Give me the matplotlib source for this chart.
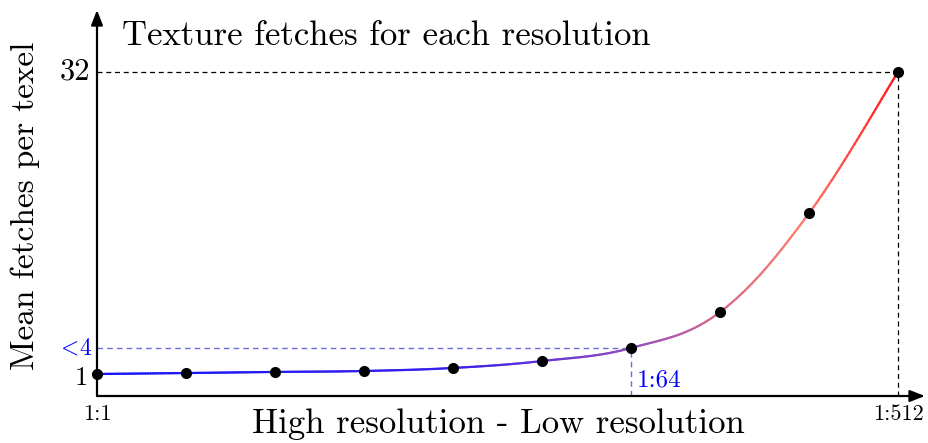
import matplotlib.pyplot as plt
import numpy as np
from matplotlib.collections import LineCollection
from matplotlib.colors import LinearSegmentedColormap

plt.rcParams['font.family'] = ['cmr10', 'DejaVu Serif']
plt.rcParams['mathtext.fontset'] = 'cm'
plt.rcParams['axes.unicode_minus'] = False

# resolution steps 1:1 ... 1:512 and mean fetches per texel
steps = [0, 1, 2, 3, 4, 5, 6, 7, 8, 9]
fetches = [1.0, 1.1, 1.21, 1.31, 1.62, 2.33, 3.67, 7.36, 17.5, 32.0]
x_labels = {0: '1:1', 9: '1:512'}
mark_idx = 6
mark_label = '1:64'


def smooth_curve(xs, ys, k=0.18, n=40):
    # bezier through the points, tikz "smooth" style
    p = np.column_stack([xs, ys]).astype(float)
    ext = np.vstack([p[0], p, p[-1]])
    t = np.linspace(0, 1, n, endpoint=False)[:, None]
    out = []
    for i in range(len(p) - 1):
        p0, p3 = p[i], p[i + 1]
        c1 = p0 + k * (ext[i + 2] - ext[i])
        c2 = p3 - k * (ext[i + 3] - ext[i + 1])
        out.append((1 - t) ** 3 * p0 + 3 * (1 - t) ** 2 * t * c1
                   + 3 * (1 - t) * t ** 2 * c2 + t ** 3 * p3)
    out.append(p[-1][None, :])
    out = np.vstack(out)
    return out[:, 0], out[:, 1]


cmap = LinearSegmentedColormap.from_list('br', [
    (0.0, (0.08, 0.08, 0.97)),
    (0.45, (0.22, 0.12, 0.93)),
    (0.67, (0.58, 0.3, 0.75)),
    (0.78, (0.85, 0.42, 0.55)),
    (0.88, (1.0, 0.48, 0.42)),
    (1.0, (1.0, 0.1, 0.1)),
])

fig = plt.figure(figsize=(9.29, 4.43), dpi=100)
ax = fig.add_axes([97 / 929, 47 / 443, (925 - 97) / 929, (396 - 10) / 443])
ymin = 1 - 22 / 9.742
ymax = 1 + 364 / 9.742
xmax = 828 / 89
ax.set_xlim(0, xmax)
ax.set_ylim(ymin, ymax)
ax.axis('off')

# axes with arrows
arrow = dict(arrowstyle='-|>,head_length=0.9,head_width=0.35', lw=1.6, color='black',
             shrinkA=0, shrinkB=0)
ax.annotate('', xy=(xmax, ymin), xytext=(0, ymin), arrowprops=arrow)
ax.annotate('', xy=(0, ymax), xytext=(0, ymin), arrowprops=arrow)

# guide lines
ax.plot([0, steps[-1]], [fetches[-1]] * 2, ls=(0, (4, 3)), color='black', lw=0.9)
ax.plot([steps[-1]] * 2, [ymin, fetches[-1]], ls=(0, (4, 3)), color='black', lw=0.9)
blue_guide = (0.42, 0.42, 0.86)
ax.plot([0, steps[mark_idx]], [fetches[mark_idx]] * 2, ls=(0, (4, 3)), color=blue_guide, lw=1.0)
ax.plot([steps[mark_idx]] * 2, [ymin, fetches[mark_idx]], ls=(0, (4, 3)), color=blue_guide, lw=1.0)

# colored smooth curve
cx, cy = smooth_curve(steps, fetches)
pts = np.column_stack([cx, cy]).reshape(-1, 1, 2)
segs = np.concatenate([pts[:-1], pts[1:]], axis=1)
lc = LineCollection(segs, cmap=cmap, linewidth=1.6, capstyle='round')
lc.set_array(cx[:-1] / steps[-1])
ax.add_collection(lc)
ax.plot(steps, fetches, 'o', color='black', markersize=7, zorder=5, clip_on=False)

# labels
ax.text(-0.08, fetches[-1], '32', ha='right', va='center', fontsize=22)
ax.text(-0.1, fetches[0] - 0.4, '1', ha='right', va='center', fontsize=19)
ax.text(-0.05, fetches[mark_idx], r'${<}\!4$', ha='right', va='center', fontsize=17, color='blue')
for i, lab in x_labels.items():
    ax.text(steps[i], ymin - 1.9, lab, ha='center', va='center', fontsize=16)
ax.text(steps[mark_idx] + 0.06, ymin + 1.6, mark_label, ha='left', va='center', fontsize=18, color='blue')

fig.text(122 / 929, 1 - 36 / 443, 'Texture fetches for each resolution', ha='left', va='center', fontsize=25)
fig.text(498 / 929, 1 - 424 / 443, 'High resolution - Low resolution', ha='center', va='center', fontsize=25)
fig.text(25 / 929, 1 - 206 / 443, 'Mean fetches per texel', ha='center', va='center', fontsize=24, rotation=90)

fig.savefig('out.png', dpi=100)
